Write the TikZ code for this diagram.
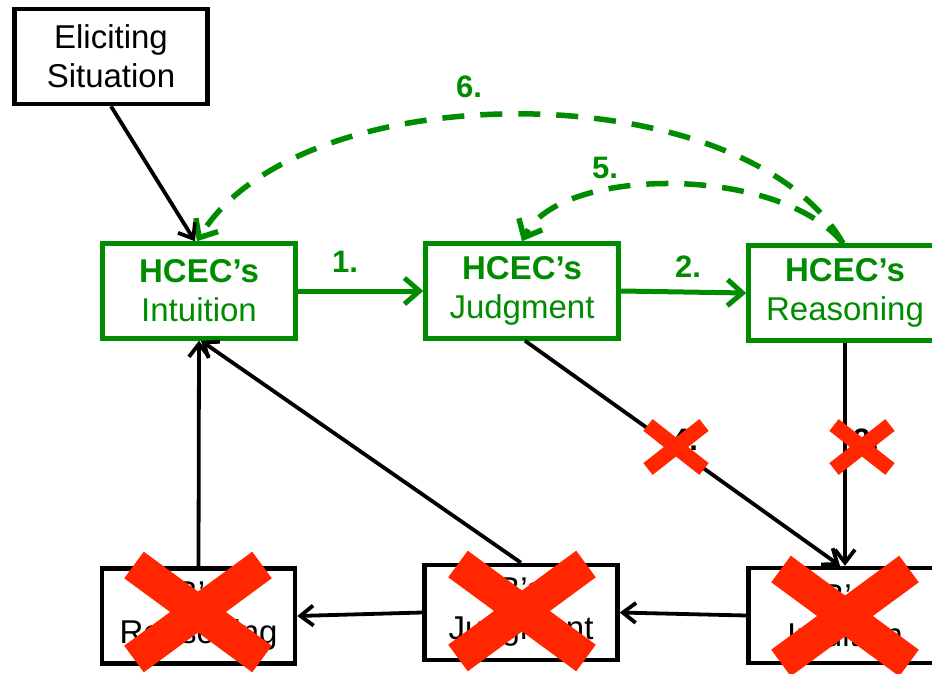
\documentclass[tikz,border=0pt]{standalone}
\usepackage{fontspec}
\setmainfont{Liberation Sans}
\usetikzlibrary{arrows.meta,calc}
\definecolor{hgreen}{RGB}{0,140,0}
\definecolor{xred}{RGB}{255,38,0}
\begin{document}
\begin{tikzpicture}[x=1pt,y=-1pt,
  box/.style={draw=black, line width=4.5pt, minimum width=193pt, minimum height=95pt, inner sep=0pt, align=center, font=\fontsize{33}{39}\selectfont},
  gbox/.style={box, draw=hgreen, text=hgreen},
  blk/.style={draw=black, line width=3.8pt, -{Straight Barb[length=13pt,width=20pt]}},
  garr/.style={draw=hgreen, line width=5pt, -{Straight Barb[length=15pt,width=26pt]}},
  gdash/.style={garr, line width=5.5pt, dash pattern=on 22pt off 16pt},
  lab/.style={font=\fontsize{31}{34}\selectfont\bfseries, inner sep=0pt},
  bigx/.style={draw=xred, line width=33pt, line cap=butt},
  smallx/.style={draw=xred, line width=15pt, line cap=butt}
]
\path[use as bounding box] (0,0) rectangle (932,674);
\clip (0,0) rectangle (932,674);

% top nodes
\node[box] (elic) at (111,56.5) {Eliciting\\Situation};
\node[gbox] (hi) at (199,291) {\textbf{HCEC’s}\\Intuition};
\node[gbox] (hj) at (522,291) {\textbf{HCEC’s}\\Judgment};
\node[gbox] (hr) at (845,293) {\textbf{HCEC’s}\\Reasoning};

% bottom nodes
\node[box] (br) at (198.5,616) {B’s\\Reasoning};
\node[box] (bj) at (521,612.5) {B’s\\Judgment};
\node[box] (bi) at (845,615.5) {B’s\\Intuition};

% green arrows
\draw[garr] (hi.east) -- (hj.west);
\draw[garr] (hj.east) -- (hr.west);
\node[lab, text=hgreen] (l1) at (345,262) {1.};
\node[lab, text=hgreen] (l2) at (688,267) {2.};

% dashed feedback curves
\draw[gdash] ([xshift=-2pt]hr.north) .. controls (745,72) and (300,72) .. ([xshift=-2pt]hi.north);
\draw[gdash] ([xshift=-2pt]hr.north) .. controls (780,165) and (560,165) .. (hj.north);
\node[lab, text=hgreen] (l6) at (469,87) {6.};
\node[lab, text=hgreen] (l5) at (605,168) {5.};

% black arrows
\draw[blk] (elic.south) -- ([xshift=-4pt]hi.north);
\draw[blk] ([xshift=3pt]hj.south) -- ([xshift=-5pt]bi.north);
\draw[blk] (hr.south) -- (bi.north);
\draw[blk] (bi.west) -- (bj.east);
\draw[blk] (bj.west) -- (br.east);
\draw[blk] (br.north) -- (hi.south);
\draw[blk] (bj.north) -- ([xshift=2pt]hi.south);
\node[lab] (l4) at (685,440) {4.};
\node[lab] (l3) at (866,440) {3.};

% red crosses
\coordinate (x1) at (198,612);
\coordinate (x2) at (522,611);
\coordinate (x3) at (845,616);
\coordinate (x4) at (676,447);
\coordinate (x5) at (862,447);
\foreach \c in {x1,x2,x3}{
  \draw[bigx] ($(\c)+(-64,-47)$) -- ($(\c)+(64,47)$);
  \draw[bigx] ($(\c)+(64,-47)$) -- ($(\c)+(-64,47)$);
}
\foreach \c in {x4,x5}{
  \draw[smallx] ($(\c)+(-28,-22)$) -- ($(\c)+(28,22)$);
  \draw[smallx] ($(\c)+(28,-22)$) -- ($(\c)+(-28,22)$);
}
\end{tikzpicture}
\end{document}
